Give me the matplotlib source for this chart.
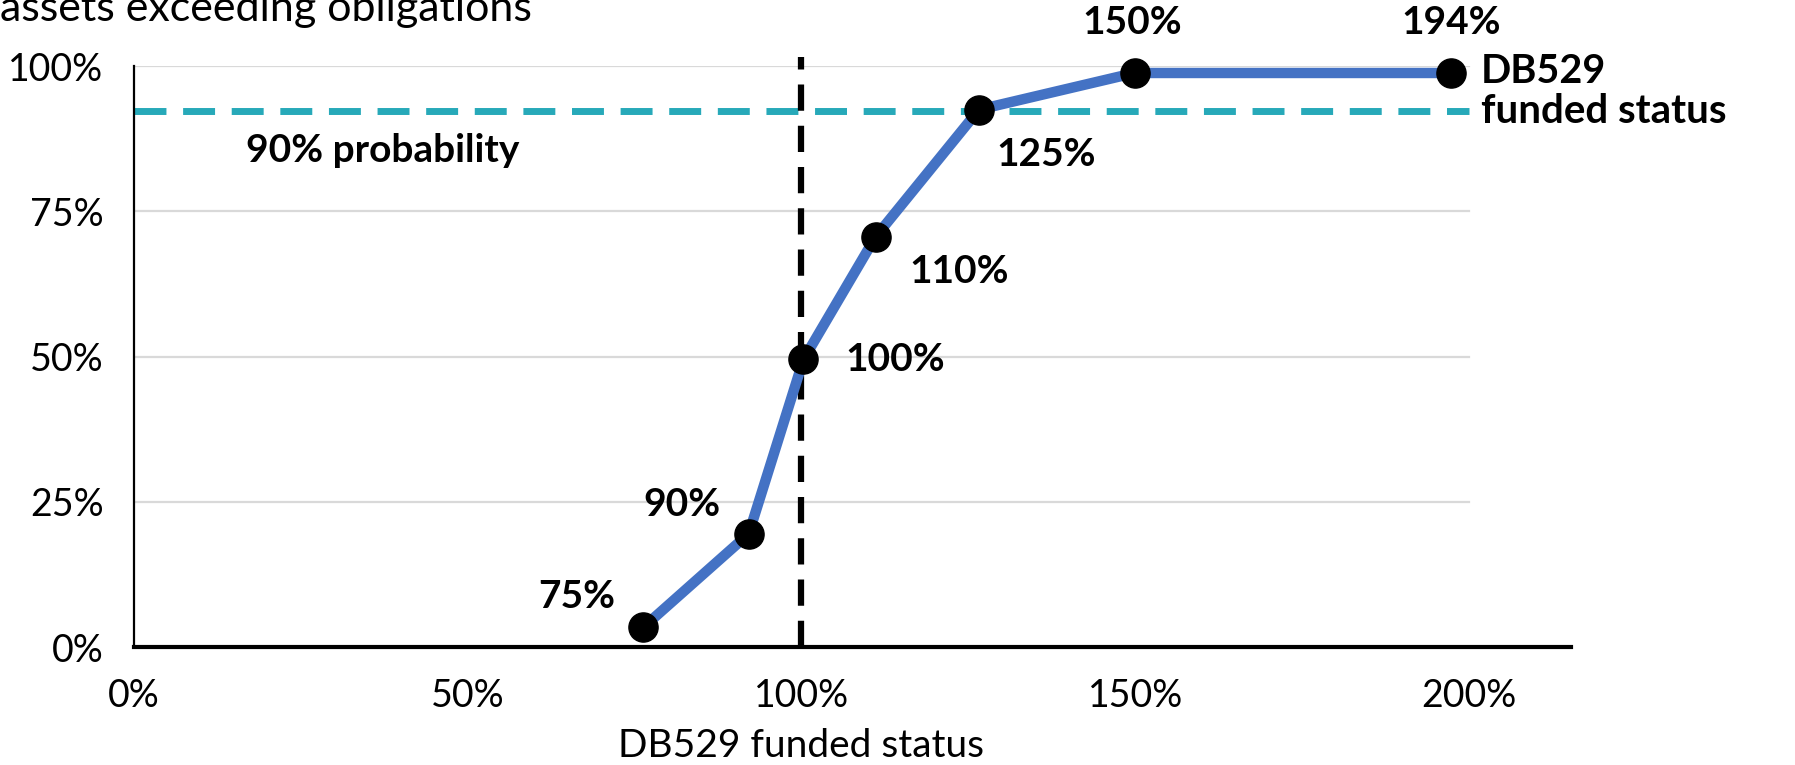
import matplotlib.pyplot as plt
import numpy as np

plt.rcParams['font.family'] = ['Lato', 'DejaVu Sans']

# funded status (x, %) vs probability of assets exceeding obligations (y, %)
funded = [76.3, 92.1, 100.3, 111.1, 126.6, 149.9, 197.3]
prob = [3.4, 19.5, 49.5, 70.6, 92.5, 98.8, 98.8]
point_labels = ["75%", "90%", "100%", "110%", "125%", "150%", "194%"]
prob_line = 92.3
ref_funded = 100
xticks = [0, 50, 100, 150, 200]
yticks = [0, 25, 50, 75, 100]

offsets = [(-48, 22), (-48, 21), (66, 0), (60, -25), (48, -32), (-2, 36), (0, 36)]

fig = plt.figure(figsize=(17.95, 7.65), dpi=100)
ax = fig.add_axes([0.0747, 0.1542, 0.8005, 0.7595])
ax.set_xlim(0, 215.3)
ax.set_ylim(0, 100)

for y in yticks[1:]:
    ax.plot([0, 200], [y, y], color='#d9d9d9', lw=1.6, zorder=1)

ax.plot([0, 200], [prob_line, prob_line], color='#27a9b9', lw=5,
        dashes=(4.6, 2.4), zorder=2)
ax.plot([ref_funded, ref_funded], [0, 101.5], color='black', lw=4.5,
        dashes=(4.2, 2.4), zorder=2, clip_on=False)

ax.plot(funded, prob, color='#4472c4', lw=7.5, zorder=3, solid_capstyle='round')
ax.plot(funded, prob, 'o', color='black', ms=21, zorder=4, clip_on=False)

for x, y, t, (dx, dy) in zip(funded, prob, point_labels, offsets):
    ax.annotate(t, (x, y), xytext=(dx, dy), textcoords='offset points',
                ha='center', va='center', fontsize=28, fontweight='bold')

ax.text(16.8, 85.4, "90% probability", fontsize=28, fontweight='bold',
        ha='left', va='center')
ax.text(201.8, 99.0, "DB529", fontsize=28.5, fontweight='bold', ha='left', va='center')
ax.text(201.8, 92.1, "funded status", fontsize=29, fontweight='bold', ha='left', va='center')

ax.set_xticks(xticks)
ax.set_xticklabels([f"{v}%" for v in xticks], fontsize=27)
ax.set_yticks(yticks)
ax.set_yticklabels([f"{v}%" for v in yticks], fontsize=27)
ax.tick_params(length=0, pad=22)

for s in ['top', 'right']:
    ax.spines[s].set_visible(False)
ax.spines['left'].set_linewidth(1.6)
ax.spines['bottom'].set_linewidth(3)
ax.spines['bottom'].set_zorder(5)

ax.set_xlabel("DB529 funded status", fontsize=28)
ax.xaxis.label.set_va('center')
ax.xaxis.set_label_coords(100 / 215.3, -0.17)

fig.text(0.0, 1 - 21 / 765, "assets exceeding obligations", fontsize=31,
         ha='left', va='baseline')

fig.savefig('out.png', dpi=100)
